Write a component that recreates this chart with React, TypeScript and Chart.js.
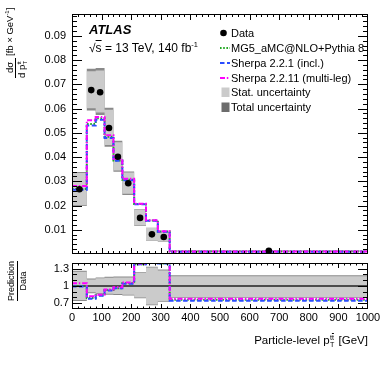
import React, { useEffect, useRef } from "react";
import { Chart, registerables } from "chart.js";
Chart.register(...registerables);

// ---------------- data ----------------
const binEdges = [0, 50, 80, 110, 140, 170, 210, 250, 290, 330, 1000];
const dataValues = [0.0267, 0.0676, 0.0667, 0.052, 0.0401, 0.0292, 0.0149, 0.0081, 0.007, 0.0013];
const statUp = [0.25, 0.115, 0.135, 0.145, 0.15, 0.15, 0.225, 0.32, 0.27, 0.17];
const statDown = [0.245, 0.11, 0.125, 0.135, 0.14, 0.15, 0.2, 0.32, 0.26, 0.19];
const totalUp = [0.265, 0.13, 0.15, 0.16, 0.165, 0.165, 0.24, 0.335, 0.285, 0.185];
const totalDown = [0.26, 0.125, 0.14, 0.15, 0.155, 0.165, 0.215, 0.335, 0.275, 0.205];
const mg5Values = [0.0268, 0.0536, 0.056, 0.0484, 0.0386, 0.0306, 0.0206, 0.0138, 0.0093, 0.00098];
const sherpa221Values = [0.0265, 0.053, 0.0554, 0.0479, 0.0385, 0.0304, 0.0205, 0.0137, 0.0092, 0.00096];
const sherpa2211Values = [0.0281, 0.0552, 0.0565, 0.049, 0.0393, 0.031, 0.0207, 0.0139, 0.0094, 0.001];
const mg5Ratio = [1.0, 0.79, 0.84, 0.93, 0.96, 1.05, 1.38, 1.7, 1.39, 0.76];
const sherpa221Ratio = [0.99, 0.78, 0.83, 0.92, 0.96, 1.04, 1.38, 1.7, 1.39, 0.745];
const sherpa2211Ratio = [1.05, 0.82, 0.85, 0.94, 0.98, 1.06, 1.39, 1.7, 1.4, 0.78];

const xTicks = [0, 100, 200, 300, 400, 500, 600, 700, 800, 900, 1000];
const xTickLabels = ["0", "100", "200", "300", "400", "500", "600", "700", "800", "900", "1000"];
const yTicksTop = [0.01, 0.02, 0.03, 0.04, 0.05, 0.06, 0.07, 0.08, 0.09];
const yTickLabelsTop = ["0.01", "0.02", "0.03", "0.04", "0.05", "0.06", "0.07", "0.08", "0.09"];
const yTicksRatio = [0.7, 1, 1.3];
const yTickLabelsRatio = ["0.7", "1", "1.3"];

// ---------------- style ----------------
const FONT = "'Liberation Sans', Arial, Helvetica, sans-serif";
const statColor = "#cbcbcb";
const totalColor = "#8a8a8a";
const mg5Color = "#22a822";
const sherpa221Color = "#2a4cff";
const sherpa2211Color = "#ff00ff";
const mg5Dash = [1.6, 1.6];
const sherpa221Dash = [4.5, 2.5];
const sherpa2211Dash = [5, 1.8, 1.5, 1.8];

// histogram: value of bin i held from edge i to edge i+1 (Chart.js "before" stepping)
const stepPoints = (vals: number[]) =>
  binEdges.map((x, i) => ({ x, y: vals[Math.min(i, vals.length - 1)] }));
const binCenters = dataValues.map((_, i) => (binEdges[i] + binEdges[i + 1]) / 2);

const bandSets = (up: number[], down: number[], base: number[] | null, color: string, order: number) => [
  {
    data: stepPoints(up.map((e, i) => (base ? base[i] : 1) * (1 + e))),
    stepped: "before" as const,
    borderWidth: 0,
    borderColor: "rgba(0,0,0,0)",
    pointRadius: 0,
    fill: false,
    order: order + 1,
  },
  {
    data: stepPoints(down.map((e, i) => (base ? base[i] : 1) * (1 - e))),
    stepped: "before" as const,
    borderWidth: 0,
    borderColor: "rgba(0,0,0,0)",
    backgroundColor: color,
    pointRadius: 0,
    fill: "-1",
    order,
  },
];

const histSet = (vals: number[], color: string, dash: number[], order: number) => ({
  data: stepPoints(vals),
  stepped: "before" as const,
  borderColor: color,
  borderWidth: 2,
  borderDash: dash,
  pointRadius: 0,
  fill: false,
  order,
});

// ATLAS-style frame with inward ticks on all four sides
const atlasFrame = {
  id: "atlasFrame",
  afterDraw(chart: any, _args: any, opts: any) {
    const { ctx, chartArea: a, scales } = chart;
    const xs = scales.x;
    const ys = scales.y;
    ctx.save();
    ctx.strokeStyle = "#000";
    ctx.lineWidth = 1;
    const tick = (px: number, len: number, vertical: boolean) => {
      ctx.beginPath();
      if (vertical) {
        const x = Math.round(px) + 0.5;
        ctx.moveTo(x, a.bottom);
        ctx.lineTo(x, a.bottom - len);
        ctx.moveTo(x, a.top);
        ctx.lineTo(x, a.top + len);
      } else {
        const y = Math.round(px) + 0.5;
        ctx.moveTo(a.left, y);
        ctx.lineTo(a.left + len, y);
        ctx.moveTo(a.right, y);
        ctx.lineTo(a.right - len, y);
      }
      ctx.stroke();
    };
    const nx = Math.round((opts.xMax - opts.xMin) / opts.xMinor);
    for (let i = 1; i < nx; i++) {
      const v = opts.xMin + i * opts.xMinor;
      const isMajor = Math.abs(v / opts.xMajor - Math.round(v / opts.xMajor)) < 1e-6;
      tick(xs.getPixelForValue(v), isMajor ? opts.xMajorLen : opts.xMinorLen, true);
    }
    const y0 = Math.ceil(opts.yMin / opts.yMinor - 1e-6);
    const y1 = Math.floor(opts.yMax / opts.yMinor + 1e-6);
    for (let i = y0; i <= y1; i++) {
      const v = i * opts.yMinor;
      if (v <= opts.yMin + 1e-9 || v >= opts.yMax - 1e-9) continue;
      const r = (v - opts.yMajorOrigin) / opts.yMajor;
      const isMajor = Math.abs(r - Math.round(r)) < 1e-6;
      tick(ys.getPixelForValue(v), isMajor ? opts.yMajorLen : opts.yMinorLen, false);
    }
    ctx.strokeRect(Math.round(a.left) + 0.5, Math.round(a.top) + 0.5, Math.round(a.right - a.left) - 1, Math.round(a.bottom - a.top) - 1);
    ctx.restore();
  },
};

const tickFont = { family: FONT, size: 11 };

function TopChart() {
  const ref = useRef<HTMLCanvasElement>(null);
  useEffect(() => {
    const chart = new Chart(ref.current!, {
      type: "line",
      data: {
        datasets: [
          ...bandSets(totalUp, totalDown, dataValues, totalColor, 10),
          ...bandSets(statUp, statDown, dataValues, statColor, 7),
          histSet(mg5Values, mg5Color, mg5Dash, 3),
          histSet(sherpa221Values, sherpa221Color, sherpa221Dash, 2),
          histSet(sherpa2211Values, sherpa2211Color, sherpa2211Dash, 1),
          {
            data: binCenters.map((x, i) => ({ x, y: dataValues[i] })),
            showLine: false,
            pointRadius: 3.3,
            pointBackgroundColor: "#000",
            pointBorderWidth: 0,
            order: 0,
          },
        ] as any,
      },
      options: {
        animation: false,
        responsive: false,
        devicePixelRatio: 1,
        layout: { padding: { left: 0, right: 14, top: 14, bottom: 2 } },
        plugins: { legend: { display: false }, tooltip: { enabled: false }, atlasFrame: {
          xMin: 0, xMax: 1000, xMajor: 100, xMinor: 20, xMajorLen: 6, xMinorLen: 3,
          yMin: 0, yMax: 0.099, yMajor: 0.01, yMinor: 0.002, yMajorOrigin: 0, yMajorLen: 10, yMinorLen: 5,
        } } as any,
        scales: {
          x: { type: "linear", min: 0, max: 1000, display: false },
          y: {
            type: "linear",
            min: 0,
            max: 0.099,
            grid: { display: false, drawTicks: false },
            border: { display: false },
            ticks: {
              font: tickFont,
              color: "#000",
              padding: 6,
              callback: (v: any) => yTickLabelsTop[yTicksTop.findIndex((t) => Math.abs(t - v) < 1e-9)],
            },
            afterBuildTicks: (s: any) => {
              s.ticks = yTicksTop.map((value) => ({ value }));
            },
            afterFit: (s: any) => {
              s.width = 72;
              s.paddingTop = 0;
              s.paddingBottom = 0;
            },
          },
        },
      } as any,
      plugins: [atlasFrame],
    });
    return () => chart.destroy();
  }, []);
  return <canvas ref={ref} width={382} height={258} style={{ position: "absolute", left: 0, top: 0, width: 382, height: 258 }} />;
}

function RatioChart() {
  const ref = useRef<HTMLCanvasElement>(null);
  useEffect(() => {
    const chart = new Chart(ref.current!, {
      type: "line",
      data: {
        datasets: [
          ...bandSets(totalUp, totalDown, null, totalColor, 10),
          ...bandSets(statUp, statDown, null, statColor, 7),
          {
            data: [{ x: binEdges[0], y: 1 }, { x: binEdges[binEdges.length - 1], y: 1 }],
            borderColor: "#222",
            borderWidth: 1.6,
            pointRadius: 0,
            fill: false,
            order: 5,
          },
          histSet(mg5Ratio, mg5Color, mg5Dash, 3),
          histSet(sherpa221Ratio, sherpa221Color, sherpa221Dash, 2),
          histSet(sherpa2211Ratio, sherpa2211Color, sherpa2211Dash, 1),
        ] as any,
      },
      options: {
        animation: false,
        responsive: false,
        devicePixelRatio: 1,
        layout: { padding: { left: 0, right: 14, top: 5, bottom: 0 } },
        plugins: { legend: { display: false }, tooltip: { enabled: false }, atlasFrame: {
          xMin: 0, xMax: 1000, xMajor: 100, xMinor: 20, xMajorLen: 5, xMinorLen: 2.5,
          yMin: 0.6, yMax: 1.4, yMajor: 0.3, yMinor: 0.1, yMajorOrigin: 0.7, yMajorLen: 10, yMinorLen: 5,
        } } as any,
        scales: {
          x: {
            type: "linear",
            min: 0,
            max: 1000,
            grid: { display: false, drawTicks: false },
            border: { display: false },
            ticks: {
              font: tickFont,
              color: "#000",
              padding: 2,
              maxRotation: 0,
              autoSkip: false,
              callback: (v: any) => xTickLabels[xTicks.indexOf(v)],
            },
            afterBuildTicks: (s: any) => {
              s.ticks = xTicks.map((value) => ({ value }));
            },
            afterFit: (s: any) => {
              s.height = 58;
              s.paddingLeft = 0;
              s.paddingRight = 0;
            },
          },
          y: {
            type: "linear",
            min: 0.6,
            max: 1.4,
            grid: { display: false, drawTicks: false },
            border: { display: false },
            ticks: {
              font: tickFont,
              color: "#000",
              padding: 3,
              callback: (v: any) => yTickLabelsRatio[yTicksRatio.findIndex((t) => Math.abs(t - v) < 1e-9)],
            },
            afterBuildTicks: (s: any) => {
              s.ticks = yTicksRatio.map((value) => ({ value }));
            },
            afterFit: (s: any) => {
              s.width = 72;
              s.paddingTop = 0;
              s.paddingBottom = 0;
            },
          },
        },
      } as any,
      plugins: [atlasFrame],
    });
    return () => chart.destroy();
  }, []);
  return <canvas ref={ref} width={382} height={109} style={{ position: "absolute", left: 0, top: 258, width: 382, height: 109 }} />;
}

// p_T^{tt̄}
function PT() {
  return (
    <span>
      p
      <span style={{ display: "inline-block", position: "relative", width: "0.5em", height: 0 }}>
        <span style={{ position: "absolute", left: "0.04em", bottom: "0.28em", fontSize: "0.62em", lineHeight: 1, whiteSpace: "nowrap" }}>
          t<span style={{ textDecoration: "overline" }}>t</span>
        </span>
        <span style={{ position: "absolute", left: "0.06em", top: "-0.28em", fontSize: "0.62em", lineHeight: 1 }}>T</span>
      </span>
    </span>
  );
}

const Sup = ({ children }: any) => (
  <span style={{ fontSize: "0.62em", position: "relative", top: "-0.6em" }}>{children}</span>
);

const legendRows = [
  { label: "Data", kind: "dot" },
  { label: "MG5_aMC@NLO+Pythia 8", kind: "line", color: mg5Color, dash: mg5Dash },
  { label: "Sherpa 2.2.1 (incl.)", kind: "line", color: sherpa221Color, dash: sherpa221Dash },
  { label: "Sherpa 2.2.11 (multi-leg)", kind: "line", color: sherpa2211Color, dash: sherpa2211Dash },
  { label: "Stat. uncertainty", kind: "box", color: statColor },
  { label: "Total uncertainty", kind: "box", color: "#6c6c6c" },
];

function Legend() {
  return (
    <>
      {legendRows.map((r, i) => {
        const cy = 32.8 + 14.9 * i;
        return (
          <div key={i} style={{ position: "absolute", left: 219, top: cy - 7, height: 14, display: "flex", alignItems: "center", fontSize: 11, lineHeight: "14px", whiteSpace: "nowrap" }}>
            <svg width={11} height={12} style={{ display: "block", marginRight: 1 }}>
              {r.kind === "dot" && <circle cx={4.5} cy={6} r={3.3} fill="#000" />}
              {r.kind === "line" && (
                <line x1={1} y1={6} x2={11} y2={6} stroke={r.color} strokeWidth={2} strokeDasharray={(r.dash || []).join(" ")} />
              )}
              {r.kind === "box" && <rect x={2.5} y={1.5} width={8} height={9.5} fill={r.color} />}
            </svg>
            <span>{r.label}</span>
          </div>
        );
      })}
    </>
  );
}

export default function App() {
  return (
    <div style={{ position: "absolute", left: 0, top: 0, width: 382, height: 367, background: "#fff", fontFamily: FONT, color: "#000", overflow: "hidden" }}>
      <TopChart />
      <RatioChart />
      {/* ATLAS label */}
      <div style={{ position: "absolute", left: 89, top: 22.5, fontSize: 13, lineHeight: 1, fontWeight: "bold", fontStyle: "italic", whiteSpace: "nowrap" }}>
        ATLAS
      </div>
      <div style={{ position: "absolute", left: 89, top: 41.5, fontSize: 12, lineHeight: 1, whiteSpace: "nowrap" }}>
        √<span style={{ textDecoration: "overline" }}>s</span> = 13 TeV, 140 fb<Sup>-1</Sup>
      </div>
      <Legend />
      {/* y title top */}
      <div style={{ position: "absolute", left: 0, top: 0, width: 70, height: 24, transformOrigin: "0 0", transform: "translate(5px, 78px) rotate(-90deg)", fontSize: 9.5, lineHeight: 1, whiteSpace: "nowrap" }}>
        <span style={{ position: "absolute", left: 5, top: 0 }}>dσ</span>
        <span style={{ position: "absolute", left: 0, top: 10, width: 20, height: 0.9, background: "#000" }} />
        <span style={{ position: "absolute", left: 0, top: 11.5 }}>d <PT /></span>
        <span style={{ position: "absolute", left: 22, top: 0 }}>
          [fb × GeV<Sup>-1</Sup>]
        </span>
      </div>
      {/* y title ratio */}
      <div style={{ position: "absolute", left: 0, top: 0, width: 42, height: 24, transformOrigin: "0 0", transform: "translate(5px, 301px) rotate(-90deg)", fontSize: 9, lineHeight: 1, whiteSpace: "nowrap" }}>
        <span style={{ position: "absolute", left: 0, top: 2 }}>Prediction</span>
        <span style={{ position: "absolute", left: 0, top: 11.5, width: 40, height: 0.9, background: "#000" }} />
        <span style={{ position: "absolute", left: 10.5, top: 13.5 }}>Data</span>
      </div>
      {/* x title */}
      <div style={{ position: "absolute", right: 14, top: 335, fontSize: 11.5, lineHeight: 1, whiteSpace: "nowrap" }}>
        Particle-level <PT /> [GeV]
      </div>
    </div>
  );
}
